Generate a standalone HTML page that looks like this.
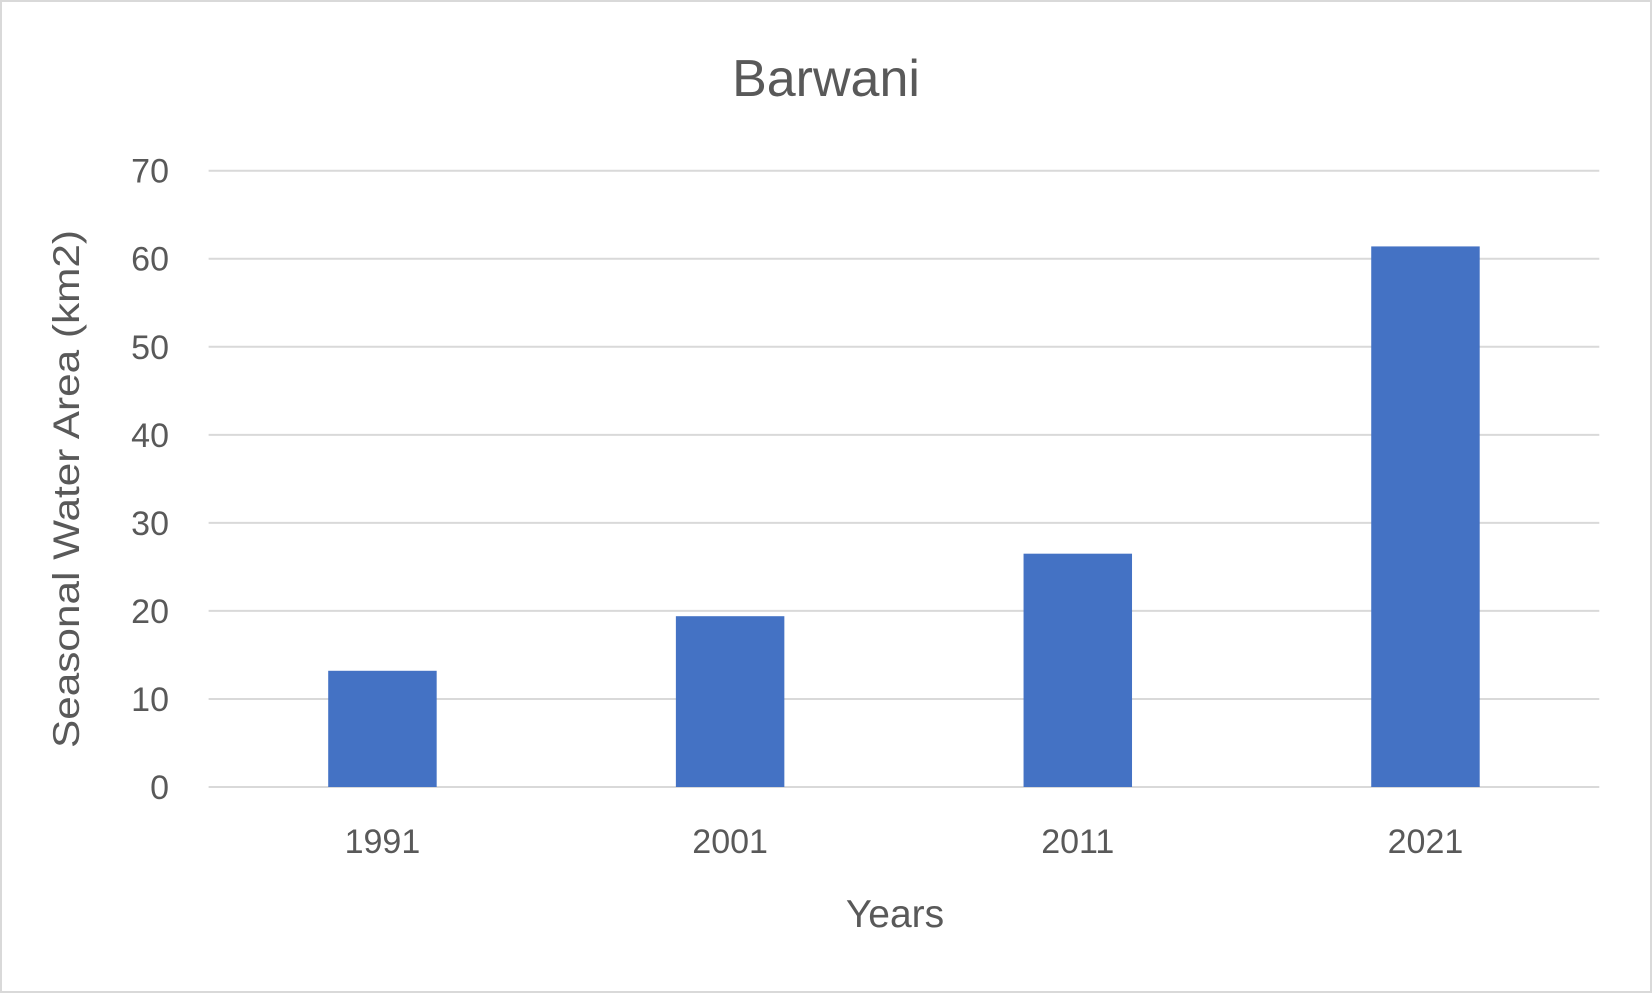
<!DOCTYPE html>
<html><head><meta charset="utf-8"><style>
html,body{margin:0;padding:0;background:#fff;}
svg{display:block;font-family:"Liberation Sans",Arial,sans-serif;}
</style></head><body>
<svg id="chart" width="1652" height="993">
<rect x="1" y="1" width="1650" height="991" fill="#fff" stroke="#d9d9d9" stroke-width="2"/>
<text x="826" y="96" text-anchor="middle" font-size="52" fill="#595959">Barwani</text>
<g id="grid"></g>
<g id="bars"></g>
<g id="ylabels"></g>
<g id="xlabels"></g>
<text x="895" y="927" text-anchor="middle" font-size="39" fill="#595959">Years</text>
<text transform="translate(79,489) rotate(-90)" text-anchor="middle" font-size="37" textLength="518" lengthAdjust="spacingAndGlyphs" fill="#595959">Seasonal Water Area  (km2)</text>
</svg>
<script>
const categories = ["1991","2001","2011","2021"];
const values = [13.2, 19.4, 26.5, 61.4];
const yTicks = [0,10,20,30,40,50,60,70];
const L=208.6,R=1599.3,T=170.7,B=787.0,yMax=70;
const NS="http://www.w3.org/2000/svg";
const y=v=>B-(v/yMax)*(B-T);
const band=(R-L)/categories.length;
const x=i=>L+band*i+band/2;
const mk=(tag,attrs)=>{const e=document.createElementNS(NS,tag);for(const k in attrs)e.setAttribute(k,attrs[k]);return e;};
const grid=document.getElementById('grid'),bars=document.getElementById('bars'),yl=document.getElementById('ylabels'),xl=document.getElementById('xlabels');
yTicks.forEach(t=>{
  const g=mk('line',{x1:L,x2:R,y1:y(t),y2:y(t),stroke:'#d9d9d9','stroke-width':2});
  
  
  grid.appendChild(g);
  const tx=mk('text',{x:169,y:y(t)+12,'text-anchor':'end','font-size':34,fill:'#595959'});
  tx.textContent=t;
  
  
  yl.appendChild(tx);
});
const bw=band*0.312;
categories.forEach((c,i)=>{
  const r=mk('rect',{x:x(i)-bw/2,y:y(values[i]),width:bw,height:B-y(values[i]),fill:'#4472c4'});
  
  
  bars.appendChild(r);
  const tx=mk('text',{x:x(i),y:853,'text-anchor':'middle','font-size':34,fill:'#595959'});
  tx.textContent=c;
  
  
  xl.appendChild(tx);
});
</script>
</body></html>
